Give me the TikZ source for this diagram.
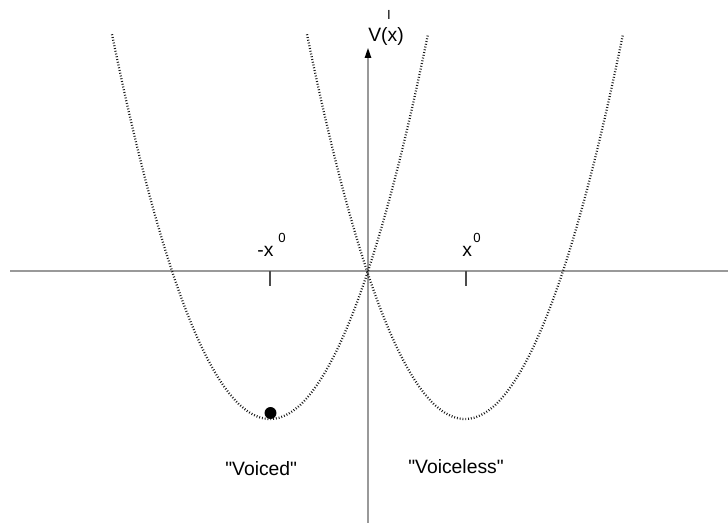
\documentclass[tikz,border=0pt]{standalone}
\usepackage{fontspec}
\setmainfont{Liberation Sans}
\usepackage{xcolor}
\usetikzlibrary{arrows.meta, positioning, calc}

\begin{document}
\begin{tikzpicture}[x=0.02cm, y=-0.02cm,
    axis/.style={black!40, line width=0.85pt},
    well/.style={black!90, line width=1.3pt, dash pattern=on 0.5pt off 1.1pt},
    lbl/.style={inner sep=0pt, font=\fontsize{11}{13}\selectfont},
    sup/.style={inner sep=0pt, font=\fontsize{7.5}{9}\selectfont}]
  \useasboundingbox (0,0) rectangle (728,523);

  % Axes
  \coordinate (xl) at (10,271);
  \coordinate (xr) at (728,271);
  \coordinate (yb) at (368,523);
  \coordinate (yt) at (368,48);
  \draw[axis] (xl) -- (xr);
  \draw[axis, -{Triangle[length=5.6pt, width=3.6pt, black]}] (yb) -- (yt);
  \draw[axis, black!70, line width=0.6pt] (270,271) -- (270,286);
  \draw[axis, black!70, line width=0.6pt] (466,271) -- (466,286);

  % Labels
  \node[sup, anchor=base] (prime) at (389,20) {I};
  \node[lbl, anchor=base west] (vx) at (368,42) {V(x)};
  \node[lbl, anchor=base west] (mx) at (257,257) {-x};
  \node[sup, anchor=base west] (mx0) at (278,243) {0};
  \node[lbl, anchor=base west] (px) at (462,257) {x};
  \node[sup, anchor=base west] (px0) at (473,243) {0};

  % Double well
  \draw[well] plot[domain=112:428, samples=90] (\x, {419 - 1.541*((\x-270)/10)^2});
  \draw[well] plot[domain=307:623, samples=90] (\x, {419 - 1.541*((\x-465)/10)^2});

  % State
  \node[circle, fill=black, inner sep=0pt, minimum size=6.8pt] (ball) at (270.5,413) {};
  \node[lbl, anchor=base west] (voiced) at (225,476) {\textquotedbl Voiced\textquotedbl};
  \node[lbl, anchor=base west] (voiceless) at (408,474) {\textquotedbl Voiceless\textquotedbl};
\end{tikzpicture}
\end{document}
